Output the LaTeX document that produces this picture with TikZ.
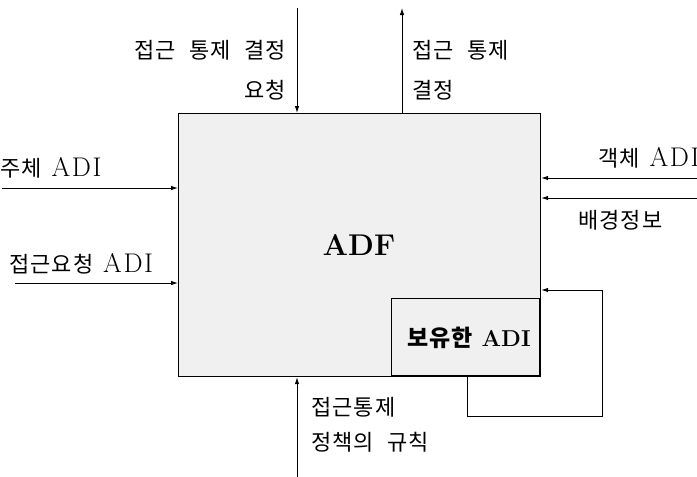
\documentclass[tikz,border=0pt]{standalone}
\usepackage{fontspec}
\newfontfamily\lat[LetterSpace=6]{Latin Modern Roman}
\newfontfamily\kr[WordSpace=2.2,LetterSpace=5]{Noto Sans CJK KR}
\usetikzlibrary{arrows.meta}
\newcommand{\K}[1]{{\kr\fontsize{22}{26}\selectfont #1}}
\newcommand{\KB}[1]{{\kr\bfseries\fontsize{23}{26}\selectfont #1}}
\tikzset{
  conn/.style={line width=0.9pt,-{Latex[length=7pt,width=4.5pt]}},
  lbl/.style={inner sep=0pt,font=\lat\fontsize{27}{30}\selectfont},
  box/.style={draw,line width=1.2pt,fill=gray!12},
}
\begin{document}
\begin{tikzpicture}[x=1pt,y=-1pt]
\useasboundingbox (0,0) rectangle (697,477);
\clip (0,0) rectangle (697,477);
% main box
\node[box,minimum width=362pt,minimum height=263pt,anchor=north west,inner sep=0pt] (adf) at (178,113) {};
\node[inner sep=0pt,font=\fontsize{30}{34}\selectfont\bfseries] (adft) at (359,245) {ADF};
\node[box,minimum width=148pt,minimum height=77pt,anchor=south east,inner sep=0pt] (held) at (540,376) {};
\node[inner sep=0pt,font=\fontsize{23}{26}\selectfont\bfseries] (heldt) at (469,338) {\KB{보유한} ADI};
% top arrows
\coordinate (tl) at (297,8);
\coordinate (tr) at (402,8);
\draw[conn] (tl) -- (tl |- adf.north);
\draw[conn] (tr |- adf.north) -- (tr);
\node[lbl,anchor=east] (t1) at (286,50) {\K{접근 통제 결정}};
\node[lbl,anchor=east] (t2) at (286,90) {\K{요청}};
\node[lbl,anchor=west] (t3) at (412,50) {\K{접근 통제}};
\node[lbl,anchor=west] (t4) at (412,90) {\K{결정}};
% left arrows
\coordinate (l1) at (2,188);
\coordinate (l2) at (15,283);
\draw[conn] (l1) -- (l1 -| adf.west);
\draw[conn] (l2) -- (l2 -| adf.west);
\node[lbl,anchor=west] (s1) at (0,168) {\K{주체} ADI};
\node[lbl,anchor=west] (s2) at (9,264) {\K{접근요청} ADI};
% right arrows
\coordinate (r1) at (697,178);
\coordinate (r2) at (697,198);
\draw[conn] (r1) -- (r1 -| adf.east);
\draw[conn] (r2) -- (r2 -| adf.east);
\node[lbl,anchor=west] (o1) at (598,158) {\K{객체} ADI};
\node[lbl,anchor=west] (o2) at (578,220) {\K{배경정보}};
% loop
\coordinate (lp1) at (467,416);
\coordinate (lp2) at (602,416);
\coordinate (lp3) at (602,290);
\draw[conn] (held.south -| lp1) -- (lp1) -- (lp2) -- (lp3) -- (lp3 -| adf.east);
% bottom arrow
\coordinate (b1) at (297,477);
\draw[conn] (b1) -- (b1 |- adf.south);
\node[lbl,anchor=west] (p1) at (311,407) {\K{접근통제}};
\node[lbl,anchor=west] (p2) at (311,442) {\K{정책의 규칙}};
\end{tikzpicture}
\end{document}
